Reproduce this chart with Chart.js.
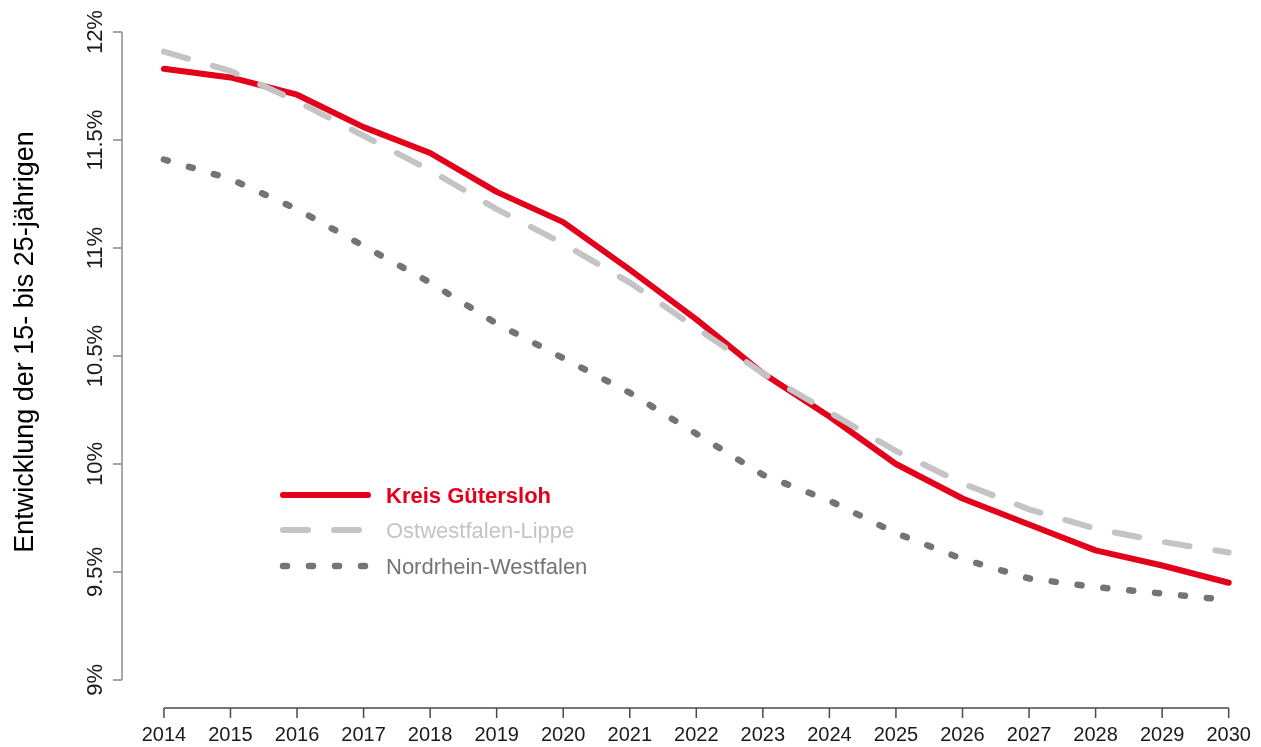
<!DOCTYPE html>
<html>
<head>
<meta charset="utf-8">
<script src="https://cdn.jsdelivr.net/npm/chart.js@4"></script>
<style>
	html, body { margin: 0; padding: 0; background: #fff; }
	#wrap { width: 1261px; height: 747px; }
</style>
</head>
<body>
<div id="wrap"><canvas id="chart" width="1261" height="747"></canvas></div>
<script>
// Data (percent)
var years = [2014, 2015, 2016, 2017, 2018, 2019, 2020, 2021, 2022, 2023, 2024, 2025, 2026, 2027, 2028, 2029, 2030];
var guetersloh = [11.83, 11.79, 11.71, 11.56, 11.44, 11.26, 11.12, 10.90, 10.67, 10.42, 10.22, 10.00, 9.84, 9.72, 9.60, 9.53, 9.45];
var owl = [11.91, 11.82, 11.68, 11.52, 11.36, 11.18, 11.02, 10.84, 10.63, 10.42, 10.24, 10.06, 9.91, 9.79, 9.70, 9.64, 9.59];
var nrw = [11.41, 11.32, 11.18, 11.01, 10.84, 10.65, 10.49, 10.33, 10.14, 9.95, 9.83, 9.68, 9.56, 9.47, 9.43, 9.40, 9.37];
var yTicks = [9, 9.5, 10, 10.5, 11, 11.5, 12];
var yTickLabels = ['9%', '9.5%', '10%', '10.5%', '11%', '11.5%', '12%'];
var seriesNames = ['Kreis Gütersloh', 'Ostwestfalen-Lippe', 'Nordrhein-Westfalen'];
var yTitle = 'Entwicklung der 15- bis 25-jährigen';

var FONT = '"Liberation Sans", Arial, sans-serif';

function points(values) {
	return values.map(function(v, i) { return { x: years[i], y: v }; });
}

// R-style detached axes, tick labels and legend
var baseAxes = {
	id: 'baseAxes',
	afterDraw: function(chart) {
		var c = chart.ctx;
		var xs = chart.scales.x, ys = chart.scales.y;
		var axisX = chart.chartArea.left;
		var axisY = chart.chartArea.bottom;
		c.save();

		// y axis
		var yTop = ys.getPixelForValue(yTicks[yTicks.length - 1]);
		var yBot = ys.getPixelForValue(yTicks[0]);
		c.strokeStyle = '#8a8a8a';
		c.lineWidth = 1.5;
		c.beginPath();
		c.moveTo(axisX, yTop);
		c.lineTo(axisX, yBot);
		yTicks.forEach(function(t) {
			var py = ys.getPixelForValue(t);
			c.moveTo(axisX, py);
			c.lineTo(axisX - 9, py);
		});
		c.stroke();

		c.fillStyle = '#1a1a1a';
		c.font = '22px ' + FONT;
		c.textAlign = 'center';
		c.textBaseline = 'alphabetic';
		yTicks.forEach(function(t, i) {
			var py = ys.getPixelForValue(t);
			c.save();
			c.translate(axisX - 20, py);
			c.rotate(-Math.PI / 2);
			c.fillText(yTickLabels[i], 0, 0);
			c.restore();
		});

		// x axis
		var xL = xs.getPixelForValue(years[0]);
		var xR = xs.getPixelForValue(years[years.length - 1]);
		c.strokeStyle = '#4a4a4a';
		c.beginPath();
		c.moveTo(xL, axisY);
		c.lineTo(xR, axisY);
		years.forEach(function(yr) {
			var px = xs.getPixelForValue(yr);
			c.moveTo(px, axisY);
			c.lineTo(px, axisY + 10);
		});
		c.stroke();

		c.font = '20px ' + FONT;
		years.forEach(function(yr) {
			c.fillText(String(yr), xs.getPixelForValue(yr), axisY + 33);
		});

		// axis title
		c.fillStyle = '#000';
		c.font = '27px ' + FONT;
		c.save();
		c.translate(33, 342);
		c.rotate(-Math.PI / 2);
		c.fillText(yTitle, 0, 0);
		c.restore();

		// legend
		var lx0 = 283, lx1 = 368, ly = [495, 530, 566];
		var textColors = ['#e2001a', '#c4c4c4', '#747474'];
		chart.data.datasets.forEach(function(ds, i) {
			c.strokeStyle = ds.borderColor;
			c.lineWidth = ds.borderWidth;
			c.lineCap = 'round';
			c.setLineDash(ds.borderDash || []);
			c.beginPath();
			c.moveTo(lx0, ly[i]);
			c.lineTo(lx1, ly[i]);
			c.stroke();
			c.setLineDash([]);
			c.fillStyle = textColors[i];
			c.font = (i === 0 ? 'bold ' : '') + '22px ' + FONT;
			c.textAlign = 'left';
			c.fillText(ds.label, 386, ly[i] + 8);
		});

		c.restore();
	}
};

new Chart(document.getElementById('chart'), {
	type: 'line',
	data: {
		datasets: [
			{
				label: seriesNames[0],
				data: points(guetersloh),
				borderColor: '#e2001a',
				borderWidth: 6,
				borderCapStyle: 'round',
				borderJoinStyle: 'round',
				pointRadius: 0,
				tension: 0,
				order: 2
			},
			{
				label: seriesNames[1],
				data: points(owl),
				borderColor: '#c4c4c4',
				borderWidth: 6,
				borderDash: [25, 26],
				borderCapStyle: 'round',
				borderJoinStyle: 'round',
				pointRadius: 0,
				tension: 0,
				order: 1
			},
			{
				label: seriesNames[2],
				data: points(nrw),
				borderColor: '#747474',
				borderWidth: 6.5,
				borderDash: [4, 22],
				borderCapStyle: 'round',
				borderJoinStyle: 'round',
				pointRadius: 0,
				tension: 0,
				order: 0
			}
		]
	},
	options: {
		responsive: false,
		animation: false,
		layout: {
			padding: { left: 122, right: 21, top: 20, bottom: 39 }
		},
		plugins: {
			legend: { display: false },
			tooltip: { enabled: false }
		},
		scales: {
			x: { type: 'linear', min: 2013.37, max: 2030.17, display: false },
			y: { type: 'linear', min: 8.87, max: 12.056, display: false }
		}
	},
	plugins: [baseAxes]
});
</script>
</body>
</html>
